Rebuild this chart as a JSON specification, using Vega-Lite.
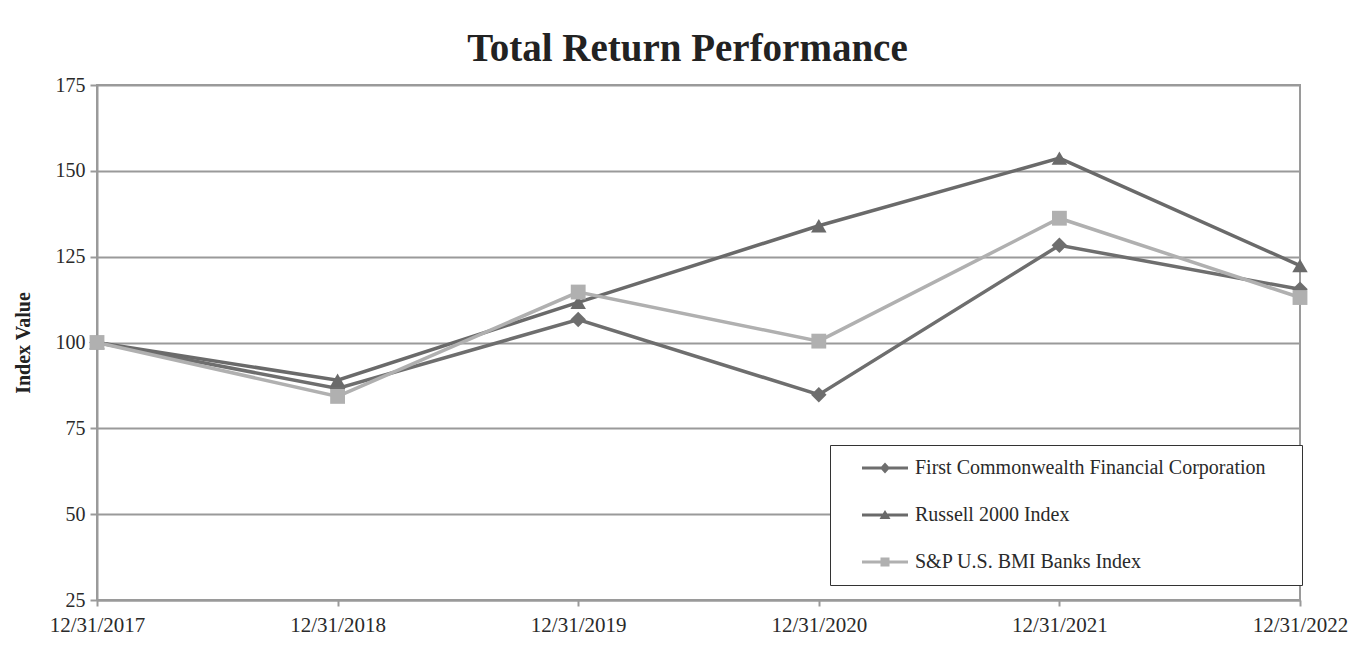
{
  "$schema": "https://vega.github.io/schema/vega-lite/v6.json",
  "autosize": {"type": "none"},
  "width": 1203,
  "height": 515,
  "padding": {"left": 97, "top": 85, "right": 53, "bottom": 69},
  "background": "white",
  "title": {
    "text": "Total Return Performance",
    "font": "Liberation Serif",
    "fontSize": 39,
    "fontWeight": "bold",
    "color": "#222222",
    "anchor": "middle",
    "baseline": "alphabetic",
    "offset": -25,
    "dx": -11
  },
  "config": {
    "view": {"stroke": "#9a9a9a", "strokeWidth": 2},
    "axis": {
      "labelFont": "Liberation Serif",
      "titleFont": "Liberation Serif",
      "labelColor": "#2a2a2a",
      "titleColor": "#222222",
      "domainColor": "#9a9a9a",
      "tickColor": "#9a9a9a",
      "gridColor": "#9a9a9a",
      "domainWidth": 2,
      "tickWidth": 2,
      "gridWidth": 2
    }
  },
  "data": {
    "values": [
      {"date": "12/31/2017", "series": "First Commonwealth Financial Corporation", "value": 100},
      {"date": "12/31/2018", "series": "First Commonwealth Financial Corporation", "value": 86.6},
      {"date": "12/31/2019", "series": "First Commonwealth Financial Corporation", "value": 106.7},
      {"date": "12/31/2020", "series": "First Commonwealth Financial Corporation", "value": 84.8},
      {"date": "12/31/2021", "series": "First Commonwealth Financial Corporation", "value": 128.3},
      {"date": "12/31/2022", "series": "First Commonwealth Financial Corporation", "value": 115.5},
      {"date": "12/31/2017", "series": "Russell 2000 Index", "value": 100},
      {"date": "12/31/2018", "series": "Russell 2000 Index", "value": 89.0},
      {"date": "12/31/2019", "series": "Russell 2000 Index", "value": 111.7},
      {"date": "12/31/2020", "series": "Russell 2000 Index", "value": 134.0},
      {"date": "12/31/2021", "series": "Russell 2000 Index", "value": 153.7},
      {"date": "12/31/2022", "series": "Russell 2000 Index", "value": 122.4},
      {"date": "12/31/2017", "series": "S&P U.S. BMI Banks Index", "value": 100},
      {"date": "12/31/2018", "series": "S&P U.S. BMI Banks Index", "value": 84.3},
      {"date": "12/31/2019", "series": "S&P U.S. BMI Banks Index", "value": 114.7},
      {"date": "12/31/2020", "series": "S&P U.S. BMI Banks Index", "value": 100.4},
      {"date": "12/31/2021", "series": "S&P U.S. BMI Banks Index", "value": 136.2},
      {"date": "12/31/2022", "series": "S&P U.S. BMI Banks Index", "value": 113.1}
    ]
  },
  "encoding": {
    "x": {
      "field": "date",
      "type": "ordinal",
      "sort": ["12/31/2017", "12/31/2018", "12/31/2019", "12/31/2020", "12/31/2021", "12/31/2022"],
      "scale": {"type": "point", "padding": 0},
      "axis": {
        "title": null,
        "labelAngle": 0,
        "labelFontSize": 21,
        "labelPadding": 8,
        "tickSize": 6,
        "grid": false
      }
    },
    "y": {
      "field": "value",
      "type": "quantitative",
      "scale": {"domain": [25, 175], "nice": false, "zero": false},
      "axis": {
        "title": "Index Value",
        "titleFontSize": 20,
        "titleFontWeight": "bold",
        "titlePadding": 22,
        "values": [25, 50, 75, 100, 125, 150, 175],
        "labelFontSize": 20,
        "labelPadding": 5,
        "tickSize": 7,
        "grid": true
      }
    }
  },
  "layer": [
    {
      "transform": [{"filter": "datum.series === 'First Commonwealth Financial Corporation'"}],
      "mark": {"type": "line", "strokeWidth": 3.5, "color": "#6e6e6e"},
      "encoding": {}
    },
    {
      "transform": [{"filter": "datum.series === 'Russell 2000 Index'"}],
      "mark": {"type": "line", "strokeWidth": 3.5, "color": "#6a6a6a"},
      "encoding": {}
    },
    {
      "transform": [{"filter": "datum.series === 'S&P U.S. BMI Banks Index'"}],
      "mark": {"type": "line", "strokeWidth": 3.5, "color": "#b0b0b0"},
      "encoding": {}
    },
    {
      "transform": [{"filter": "datum.series === 'First Commonwealth Financial Corporation'"}],
      "mark": {"type": "point", "filled": true, "opacity": 1, "size": 240, "shape": "diamond", "color": "#6e6e6e"},
      "encoding": {}
    },
    {
      "transform": [{"filter": "datum.series === 'Russell 2000 Index'"}],
      "mark": {"type": "point", "filled": true, "opacity": 1, "size": 240, "shape": "triangle-up", "color": "#6a6a6a"},
      "encoding": {}
    },
    {
      "transform": [{"filter": "datum.series === 'S&P U.S. BMI Banks Index'"}],
      "mark": {"type": "point", "filled": true, "opacity": 1, "size": 220, "shape": "square", "color": "#b0b0b0"},
      "encoding": {}
    },
    {
      "transform": [{"filter": "datum.value < 0"}],
      "mark": {"type": "point", "filled": true, "opacity": 1},
      "encoding": {
        "fill": {
          "field": "series",
          "type": "nominal",
          "scale": {
            "domain": ["First Commonwealth Financial Corporation", "Russell 2000 Index", "S&P U.S. BMI Banks Index"],
            "range": ["#6e6e6e", "#6a6a6a", "#b0b0b0"]
          },
          "legend": {
            "title": " ",
            "titleOrient": "right",
            "titleFontSize": 10,
            "titlePadding": 23,
            "orient": "none",
            "legendX": 733,
            "legendY": 360,
            "padding": 13,
            "fillColor": "white",
            "strokeColor": "#333333",
            "labelFont": "Liberation Serif",
            "labelFontSize": 20,
            "labelColor": "#2a2a2a",
            "labelLimit": 600,
            "labelOffset": 20,
            "symbolOffset": 32,
            "symbolSize": 400,
            "symbolOpacity": 1,
            "symbolStrokeWidth": 0,
            "rowPadding": 27
          }
        },
        "shape": {
          "field": "series",
          "type": "nominal",
          "scale": {
            "domain": ["First Commonwealth Financial Corporation", "Russell 2000 Index", "S&P U.S. BMI Banks Index"],
            "range": [
              "M-2.3,-0.15H2.3V0.15H-2.3Z M-0.5,0L0,-0.55L0.5,0L0,0.55Z",
              "M-2.3,-0.15H2.3V0.15H-2.3Z M-0.55,0.4L0,-0.5L0.55,0.4Z",
              "M-2.3,-0.15H2.3V0.15H-2.3Z M-0.45,-0.45H0.45V0.45H-0.45Z"
            ]
          }
        }
      }
    }
  ]
}
